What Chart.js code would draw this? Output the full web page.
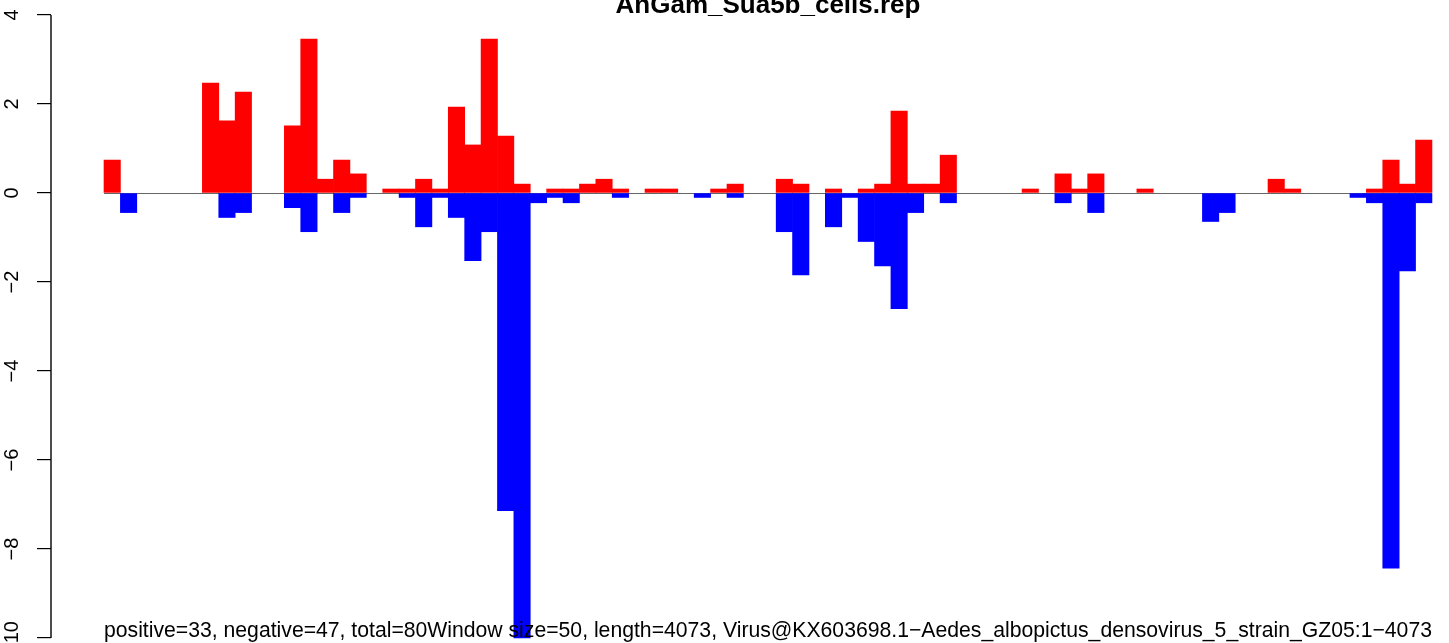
<!DOCTYPE html>
<html>
<head>
<meta charset="utf-8">
<script src="https://cdn.jsdelivr.net/npm/chart.js@4/dist/chart.umd.min.js"></script>
<style>
  html, body { margin: 0; padding: 0; background: #ffffff; }
  #wrap { width: 1449px; height: 643px; position: relative; }
</style>
</head>
<body>
<div id="wrap"><canvas id="c" width="1449" height="643"></canvas></div>
<script>
// ---- data ----
const chartTitle = "AnGam_Sua5b_cells.rep";
const leftNote = "positive=33, negative=47, total=80";
const rightNote = "Window size=50, length=4073, Virus@KX603698.1\u2212Aedes_albopictus_densovirus_5_strain_GZ05:1\u22124073";

// window bins (categories)
const bins = [1,2,3,4,5,6,7,8,9,10,11,12,13,14,15,16,17,18,19,20,
              21,22,23,24,25,26,27,28,29,30,31,32,33,34,35,36,37,38,39,40,
              41,42,43,44,45,46,47,48,49,50,51,52,53,54,55,56,57,58,59,60,
              61,62,63,64,65,66,67,68,69,70,71,72,73,74,75,76,77,78,79,80,81];

// positive-strand values (red)
const positiveValues = [0.74,0,0,0,0,0,2.47,1.62,2.27,0,
                        0,1.51,3.46,0.31,0.74,0.43,0,0.09,0.09,0.31,
                        0.09,1.93,1.08,3.46,1.28,0.20,0,0.09,0.09,0.20,
                        0.31,0.09,0,0.09,0.09,0,0,0.09,0.20,0,
                        0,0.31,0.20,0,0.09,0,0.09,0.20,1.84,0.20,
                        0.20,0.85,0,0,0,0,0.09,0,0.43,0.09,
                        0.43,0,0,0.09,0,0,0,0,0,0,
                        0,0.31,0.09,0,0,0,0,0.09,0.74,0.20,1.19];

// negative-strand values (blue)
const negativeValues = [0,-0.44,0,0,0,0,0,-0.55,-0.44,0,
                        0,-0.33,-0.87,0,-0.44,-0.10,0,0,-0.10,-0.76,
                        -0.10,-0.55,-1.52,-0.87,-7.14,-10.0,-0.22,-0.10,-0.22,0,
                        0,-0.10,0,0,0,0,-0.10,0,-0.10,0,
                        0,-0.87,-1.84,0,-0.76,-0.10,-1.09,-1.64,-2.60,-0.44,
                        0,-0.22,0,0,0,0,0,0,-0.22,0,
                        -0.44,0,0,0,0,0,0,-0.64,-0.44,0,
                        0,0,0,0,0,0,-0.10,-0.22,-8.43,-1.75,-0.22];

// y tick labels
const yTicks = [4, 2, 0, -2, -4, -6, -8, -10];

const FONT = "'Liberation Sans', Arial, Helvetica, sans-serif";

const toPoints = (vals) => bins.map((b, i) => ({ x: b - 0.5, y: vals[i] === 0 ? null : vals[i] }));

const decorations = {
  id: 'decorations',
  beforeDatasetsDraw(chart) {
    const { ctx, scales: { x, y } } = chart;
    ctx.save();
    ctx.strokeStyle = '#666666';
    ctx.lineWidth = 1;
    const y0 = Math.round(y.getPixelForValue(0)) + 0.5;
    ctx.beginPath();
    ctx.moveTo(x.getPixelForValue(bins[0] - 1), y0);
    ctx.lineTo(x.getPixelForValue(bins[bins.length - 1]), y0);
    ctx.stroke();
    ctx.restore();
  },
  afterDraw(chart) {
    const { ctx, scales: { x, y } } = chart;
    ctx.save();
    // y axis line spanning the tick range
    ctx.strokeStyle = '#000000';
    ctx.lineWidth = 1.4;
    ctx.beginPath();
    ctx.moveTo(y.right, y.getPixelForValue(Math.max(...yTicks)));
    ctx.lineTo(y.right, y.getPixelForValue(Math.min(...yTicks)));
    ctx.stroke();
    // title
    ctx.fillStyle = '#000000';
    ctx.font = "bold 26px " + FONT;
    ctx.textAlign = 'center';
    ctx.textBaseline = 'alphabetic';
    ctx.fillText(chartTitle, 768, 13);
    // bottom notes, aligned to the ends of the bar range
    ctx.font = "21.2px " + FONT;
    ctx.textAlign = 'left';
    ctx.fillText(leftNote, x.getPixelForValue(bins[0] - 1), 637);
    ctx.textAlign = 'right';
    ctx.fillText(rightNote, x.getPixelForValue(bins[bins.length - 1]), 637);
    ctx.restore();
  }
};

new Chart(document.getElementById('c'), {
  type: 'bar',
  data: {
    datasets: [
      { label: 'positive', data: toPoints(positiveValues), backgroundColor: '#FF0000', borderWidth: 0, stack: 's' },
      { label: 'negative', data: toPoints(negativeValues), backgroundColor: '#0000FF', borderWidth: 0, stack: 's' }
    ]
  },
  options: {
    responsive: false,
    animation: false,
    devicePixelRatio: 1,
    layout: { padding: 0 },
    datasets: { bar: { barPercentage: 1, categoryPercentage: 1 } },
    plugins: { legend: { display: false }, tooltip: { enabled: false }, title: { display: false } },
    scales: {
      x: {
        type: 'linear',
        display: false,
        offset: false,
        stacked: true,
        min: -3.233,
        max: 82.04,
        grid: { offset: false }
      },
      y: {
        type: 'linear',
        position: 'left',
        stacked: true,
        min: -10.112,
        max: 4.337,
        afterFit(s) { s.width = 51; s.paddingTop = 0; s.paddingBottom = 0; },
        afterBuildTicks(s) { s.ticks = yTicks.map(v => ({ value: v })); },
        border: { display: false },
        grid: { display: true, drawOnChartArea: false, drawTicks: true, tickLength: 14, color: '#000000', lineWidth: 1.2 },
        ticks: {
          autoSkip: false,
          minRotation: 90,
          maxRotation: 90,
          crossAlign: 'center',
          padding: 7.5,
          color: '#000000',
          font: { family: FONT, size: 20 },
          callback: (v) => String(v).replace('-', '\u2212')
        }
      }
    }
  },
  plugins: [decorations]
});
</script>
</body>
</html>
